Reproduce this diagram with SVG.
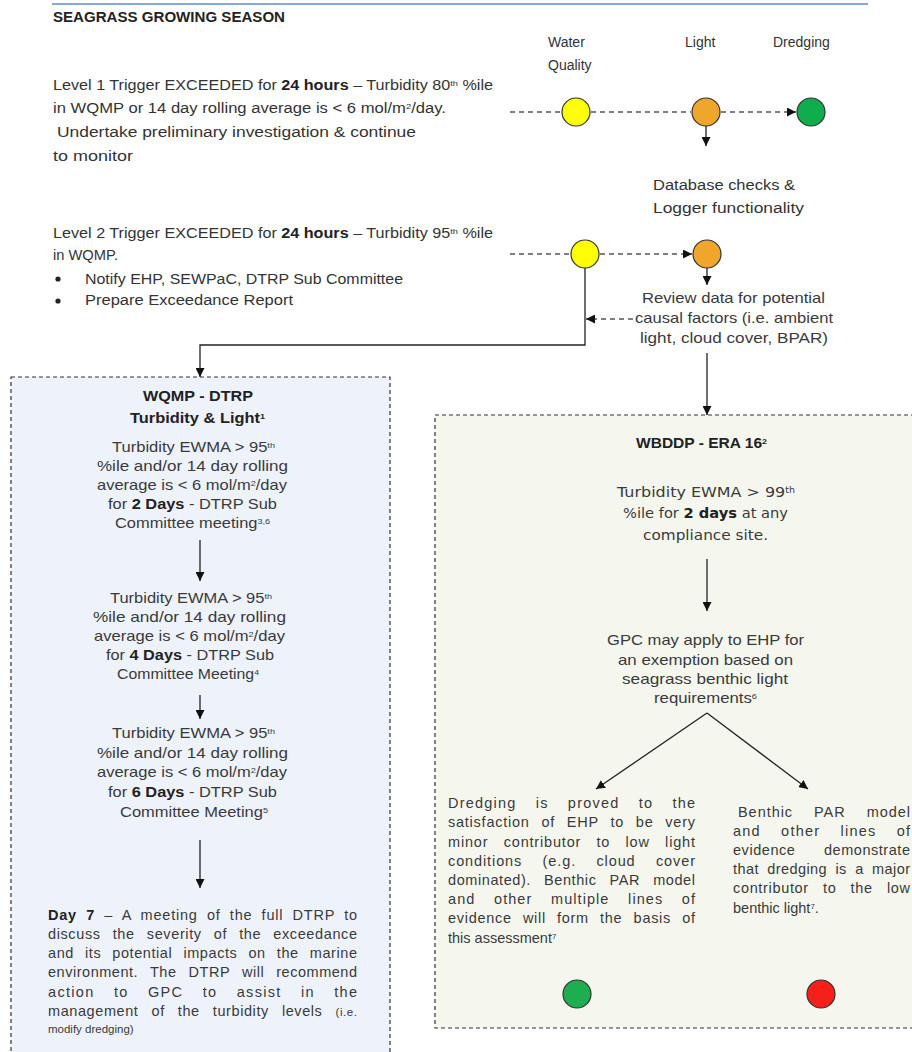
<svg xmlns="http://www.w3.org/2000/svg" width="912" height="1052" viewBox="0 0 912 1052">
<style>
.cal{font-family:"Liberation Sans","Open Sans",sans-serif;font-size:14px;fill:#333}
.box{font-family:"Liberation Sans",Arial,sans-serif;font-size:14.5px;fill:#3a3a3a}
.vd{font-family:"DejaVu Sans","Liberation Sans",sans-serif;font-size:13.5px;fill:#3a3a3a}
.b{font-weight:bold;fill:#222}
.sup{font-size:8px}
.ln{stroke:#222;stroke-width:1.3;fill:none}
.dash{stroke:#555;stroke-width:1.5;fill:none;stroke-dasharray:5,4}
.c{stroke:#333;stroke-width:1.2}
</style>
<defs>
<marker id="ah" viewBox="0 0 10 10" refX="10" refY="5" markerWidth="9" markerHeight="9" markerUnits="userSpaceOnUse" orient="auto">
<path d="M0,0 L10,5 L0,10 z" fill="#111"/>
</marker>
</defs>
<rect width="912" height="1052" fill="#fff"/>
<line x1="52" y1="4" x2="868" y2="4" stroke="#5B8BD0" stroke-width="1.5"/>

<g id="title">
<text class="cal b" x="53" y="22" textLength="232" lengthAdjust="spacingAndGlyphs">SEAGRASS GROWING SEASON</text>
</g>

<g id="level1">
<text class="cal" x="53" y="90" textLength="440" lengthAdjust="spacingAndGlyphs">Level 1 Trigger EXCEEDED for <tspan class="b">24 hours</tspan> – Turbidity 80<tspan class="sup" baseline-shift="super">th</tspan> %ile</text>
<text class="cal" x="53" y="113" textLength="393" lengthAdjust="spacingAndGlyphs">in WQMP or 14 day rolling average is &lt; 6 mol/m<tspan class="sup" baseline-shift="super">2</tspan>/day.</text>
<text class="cal" x="57" y="137" textLength="359" lengthAdjust="spacingAndGlyphs">Undertake preliminary investigation &amp; continue</text>
<text class="cal" x="53" y="161" textLength="80" lengthAdjust="spacingAndGlyphs">to monitor</text>
</g>

<g id="level2">
<text class="cal" x="53" y="238" textLength="440" lengthAdjust="spacingAndGlyphs">Level 2 Trigger EXCEEDED for <tspan class="b">24 hours</tspan> – Turbidity 95<tspan class="sup" baseline-shift="super">th</tspan> %ile</text>
<text class="cal" x="53" y="260" textLength="65" lengthAdjust="spacingAndGlyphs">in WQMP.</text>
<circle cx="58" cy="279" r="2.6" fill="#222"/>
<text class="cal" x="85" y="284" textLength="318" lengthAdjust="spacingAndGlyphs">Notify EHP, SEWPaC, DTRP Sub Committee</text>
<circle cx="58" cy="301" r="2.6" fill="#222"/>
<text class="cal" x="85" y="305" textLength="208" lengthAdjust="spacingAndGlyphs">Prepare Exceedance Report</text>
</g>

<g id="legend">
<text class="cal" x="548" y="47">Water</text>
<text class="cal" x="548" y="70">Quality</text>
<text class="cal" x="685" y="47">Light</text>
<text class="cal" x="773" y="47">Dredging</text>
</g>

<g id="l1-wq"><circle class="c" cx="576" cy="112" r="14" fill="#FFFF00"/></g>
<g id="l1-light"><circle class="c" cx="706" cy="112" r="14" fill="#EFA62A"/></g>
<g id="l1-dredge"><circle class="c" cx="811" cy="112" r="14" fill="#10AD4E"/></g>

<g id="db-checks">
<text class="cal" x="653" y="190" textLength="142" lengthAdjust="spacingAndGlyphs">Database checks &amp;</text>
<text class="cal" x="653" y="213" textLength="151" lengthAdjust="spacingAndGlyphs">Logger functionality</text>
</g>

<g id="l2-wq"><circle class="c" cx="585" cy="254" r="14" fill="#FFFF00"/></g>
<g id="l2-light"><circle class="c" cx="707" cy="254" r="14" fill="#EFA62A"/></g>

<g id="review">
<text class="box" x="642" y="303" textLength="183" lengthAdjust="spacingAndGlyphs">Review data for potential</text>
<text class="box" x="635" y="323" textLength="198" lengthAdjust="spacingAndGlyphs">causal factors (i.e. ambient</text>
<text class="box" x="640" y="343" textLength="188" lengthAdjust="spacingAndGlyphs">light, cloud cover, BPAR)</text>
</g>

<g id="wqmp-box">
<rect x="11" y="377" width="379" height="700" fill="#EEF3FB" stroke="#333" stroke-width="1.2" stroke-dasharray="4,3"/>
<text class="box b" x="143" y="401" textLength="110" lengthAdjust="spacingAndGlyphs">WQMP - DTRP</text>
<text class="box b" x="130" y="423" textLength="135" lengthAdjust="spacingAndGlyphs">Turbidity &amp; Light<tspan class="sup" baseline-shift="super">1</tspan></text>

<text class="box" x="112" y="452" textLength="163" lengthAdjust="spacingAndGlyphs">Turbidity EWMA &gt; 95<tspan class="sup" baseline-shift="super">th</tspan></text>
<text class="box" x="97" y="471" textLength="191" lengthAdjust="spacingAndGlyphs">%ile and/or 14 day rolling</text>
<text class="box" x="97" y="490" textLength="190" lengthAdjust="spacingAndGlyphs">average is &lt; 6 mol/m<tspan class="sup" baseline-shift="super">2</tspan>/day</text>
<text class="box" x="108" y="509" textLength="169" lengthAdjust="spacingAndGlyphs">for <tspan class="b">2 Days</tspan> - DTRP Sub</text>
<text class="box" x="115" y="528" textLength="155" lengthAdjust="spacingAndGlyphs">Committee meeting<tspan class="sup" baseline-shift="super">3,6</tspan></text>

<text class="box" x="110" y="603" textLength="162" lengthAdjust="spacingAndGlyphs">Turbidity EWMA &gt; 95<tspan class="sup" baseline-shift="super">th</tspan></text>
<text class="box" x="93" y="622" textLength="193" lengthAdjust="spacingAndGlyphs">%ile and/or 14 day rolling</text>
<text class="box" x="94" y="641" textLength="191" lengthAdjust="spacingAndGlyphs">average is &lt; 6 mol/m<tspan class="sup" baseline-shift="super">2</tspan>/day</text>
<text class="box" x="106" y="660" textLength="168" lengthAdjust="spacingAndGlyphs">for <tspan class="b">4 Days</tspan> - DTRP Sub</text>
<text class="box" x="117" y="679" textLength="142" lengthAdjust="spacingAndGlyphs">Committee Meeting<tspan class="sup" baseline-shift="super">4</tspan></text>

<text class="box" x="112" y="738" textLength="163" lengthAdjust="spacingAndGlyphs">Turbidity EWMA &gt; 95<tspan class="sup" baseline-shift="super">th</tspan></text>
<text class="box" x="97" y="758" textLength="191" lengthAdjust="spacingAndGlyphs">%ile and/or 14 day rolling</text>
<text class="box" x="97" y="777" textLength="190" lengthAdjust="spacingAndGlyphs">average is &lt; 6 mol/m<tspan class="sup" baseline-shift="super">2</tspan>/day</text>
<text class="box" x="108" y="797" textLength="169" lengthAdjust="spacingAndGlyphs">for <tspan class="b">6 Days</tspan> - DTRP Sub</text>
<text class="box" x="120" y="817" textLength="148" lengthAdjust="spacingAndGlyphs">Committee Meeting<tspan class="sup" baseline-shift="super">5</tspan></text>

<text class="box" x="48" y="920" textLength="309" lengthAdjust="spacing" word-spacing="4.5"><tspan class="b">Day 7</tspan> – A meeting of the full DTRP to</text>
<text class="box" x="48" y="939" textLength="309" lengthAdjust="spacing" word-spacing="7.5">discuss the severity of the exceedance</text>
<text class="box" x="48" y="958" textLength="309" lengthAdjust="spacing" word-spacing="6.5">and its potential impacts on the marine</text>
<text class="box" x="48" y="977" textLength="309" lengthAdjust="spacing" word-spacing="7.5">environment. The DTRP will recommend</text>
<text class="box" x="48" y="997" textLength="309" lengthAdjust="spacing" word-spacing="14">action to GPC to assist in the</text>
<text class="box" x="48" y="1016" textLength="309" lengthAdjust="spacing" word-spacing="8.5">management of the turbidity levels <tspan style="font-size:11.5px">(i.e.</tspan></text>
<text class="box" x="48" y="1033" style="font-size:11.5px">modify dredging)</text>
</g>

<g id="wbddp-box">
<rect x="435" y="415" width="500" height="613" fill="#F5F7EF" stroke="#333" stroke-width="1.2" stroke-dasharray="4,3"/>
<text class="cal b" x="636" y="448" textLength="131" lengthAdjust="spacingAndGlyphs">WBDDP - ERA 16<tspan class="sup" baseline-shift="super">2</tspan></text>
<text class="vd" x="617" y="497" textLength="178" lengthAdjust="spacingAndGlyphs">Turbidity EWMA &gt; 99<tspan class="sup" baseline-shift="super">th</tspan></text>
<text class="vd" x="623" y="518" textLength="165" lengthAdjust="spacingAndGlyphs">%ile for <tspan class="b">2 days</tspan> at any</text>
<text class="vd" x="643" y="540" textLength="125" lengthAdjust="spacingAndGlyphs">compliance site.</text>

<text class="box" x="607" y="645" textLength="197" lengthAdjust="spacingAndGlyphs">GPC may apply to EHP for</text>
<text class="box" x="618" y="665" textLength="175" lengthAdjust="spacingAndGlyphs">an exemption based on</text>
<text class="box" x="622" y="684" textLength="166" lengthAdjust="spacingAndGlyphs">seagrass benthic light</text>
<text class="box" x="654" y="703" textLength="103" lengthAdjust="spacingAndGlyphs">requirements<tspan class="sup" baseline-shift="super">6</tspan></text>

<text class="box" x="448" y="808" textLength="247" lengthAdjust="spacing" word-spacing="14">Dredging is proved to the</text>
<text class="box" x="448" y="827" textLength="247" lengthAdjust="spacing" word-spacing="7">satisfaction of EHP to be very</text>
<text class="box" x="448" y="847" textLength="247" lengthAdjust="spacing" word-spacing="10.5">minor contributor to low light</text>
<text class="box" x="448" y="866" textLength="247" lengthAdjust="spacing" word-spacing="15.5">conditions (e.g. cloud cover</text>
<text class="box" x="448" y="885" textLength="247" lengthAdjust="spacing" word-spacing="8.5">dominated). Benthic PAR model</text>
<text class="box" x="448" y="904" textLength="247" lengthAdjust="spacing" word-spacing="13.5">and other multiple lines of</text>
<text class="box" x="448" y="923" textLength="247" lengthAdjust="spacing" word-spacing="6.5">evidence will form the basis of</text>
<text class="box" x="448" y="943">this assessment<tspan class="sup" baseline-shift="super">7</tspan></text>

<text class="box" x="738" y="817" textLength="172" lengthAdjust="spacing" word-spacing="16">Benthic PAR model</text>
<text class="box" x="733" y="836" textLength="177" lengthAdjust="spacing" word-spacing="15">and other lines of</text>
<text class="box" x="733" y="855" textLength="177" lengthAdjust="spacing" word-spacing="24">evidence demonstrate</text>
<text class="box" x="733" y="874" textLength="177" lengthAdjust="spacing" word-spacing="4">that dredging is a major</text>
<text class="box" x="733" y="893" textLength="177" lengthAdjust="spacing" word-spacing="9.5">contributor to the low</text>
<text class="box" x="733" y="913">benthic light<tspan class="sup" baseline-shift="super">7</tspan>.</text>
</g>

<g id="result-green"><circle class="c" cx="577" cy="994" r="14" fill="#1DAE4F"/></g>
<g id="result-red"><circle class="c" cx="821" cy="994" r="14" fill="#F5201A"/></g>

<g id="connectors">
<line class="dash" x1="510" y1="112" x2="561" y2="112"/>
<line class="dash" x1="591" y1="112" x2="691" y2="112"/>
<line class="dash" x1="721" y1="112" x2="796" y2="112" marker-end="url(#ah)"/>
<line class="ln" x1="706" y1="126" x2="706" y2="146" marker-end="url(#ah)"/>
<line class="dash" x1="510" y1="254" x2="570" y2="254"/>
<line class="dash" x1="600" y1="254" x2="692" y2="254" marker-end="url(#ah)"/>
<line class="ln" x1="707" y1="268" x2="707" y2="285" marker-end="url(#ah)"/>
<polyline class="ln" points="585,268 585,345 200,345 200,377" marker-end="url(#ah)"/>
<line class="dash" x1="633" y1="319" x2="586" y2="319" marker-end="url(#ah)"/>
<line class="ln" x1="707" y1="353" x2="707" y2="415" marker-end="url(#ah)"/>
<line class="ln" x1="200" y1="540" x2="200" y2="581" marker-end="url(#ah)"/>
<line class="ln" x1="200" y1="695" x2="200" y2="719" marker-end="url(#ah)"/>
<line class="ln" x1="200" y1="840" x2="200" y2="888" marker-end="url(#ah)"/>
<line class="ln" x1="707" y1="559" x2="707" y2="611" marker-end="url(#ah)"/>
<line class="ln" x1="707" y1="713" x2="596" y2="789" marker-end="url(#ah)"/>
<line class="ln" x1="707" y1="713" x2="808" y2="789" marker-end="url(#ah)"/>
</g>
</svg>
